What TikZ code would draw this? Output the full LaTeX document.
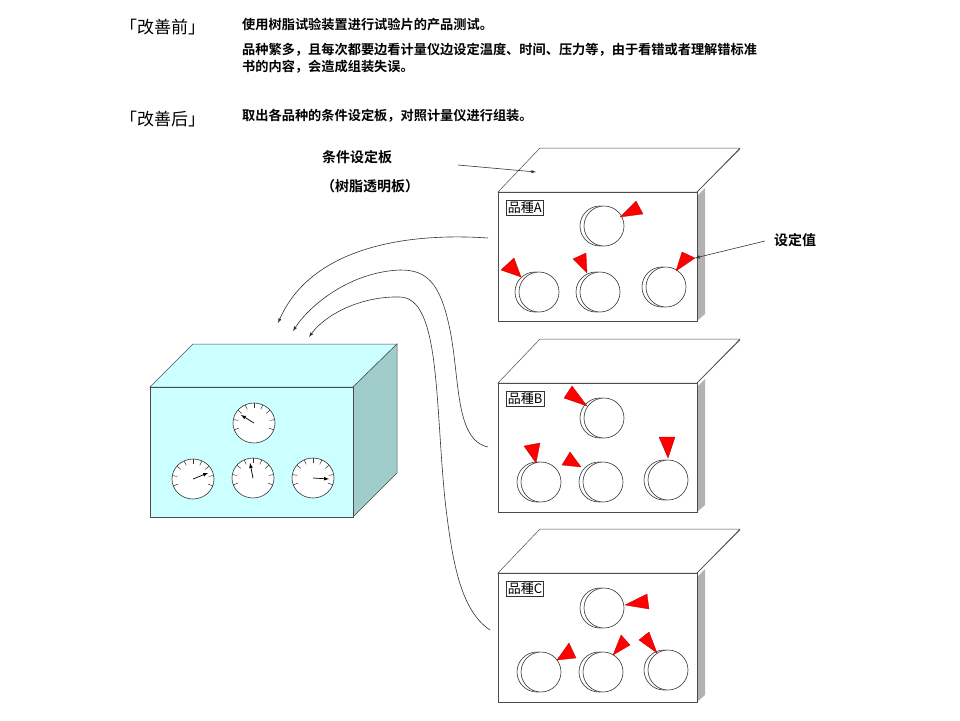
\documentclass[tikz,border=0pt]{standalone}
\usepackage{fontspec}
\usetikzlibrary{calc}
\newfontfamily\cjk{Noto Sans CJK SC}
\newfontfamily\cjkb{Noto Sans CJK SC Bold}
\begin{document}
\begin{tikzpicture}[x=1pt,y=-1pt,
  edge/.style={draw=black!70,line width=0.5pt},
  knob/.style={draw=black!80,line width=0.6pt,fill=white},
  tri/.style={fill=red,draw=red!70!black,line width=0.3pt},
  conn/.style={draw=black!80,line width=0.6pt,-latex},
  lab/.style={draw=black!80,line width=0.6pt,fill=white,inner sep=1.5pt,font=\cjk\fontsize{13}{13}\selectfont},
  txt/.style={font=\cjkb\fontsize{13.2}{17}\selectfont,anchor=west,inner sep=0pt},
  head/.style={font=\cjk\fontsize{17}{17}\selectfont,anchor=west,inner sep=0pt}]
\useasboundingbox (0,0) rectangle (960,720);
\fill[white] (0,0) rectangle (960,720);
% texts
\node[head] (h1) at (120,27) {「改善前」};
\node[txt] (t1) at (242,24) {使用树脂试验装置进行试验片的产品测试。};
\node[txt,align=left] (t2) at (242,58) {品种繁多，且每次都要边看计量仪边设定温度、时间、压力等，由于看错或者理解错标准\\书的内容，会造成组装失误。};
\node[head] (h2) at (120,119) {「改善后」};
\node[txt] (t3) at (242,116) {取出各品种的条件设定板，对照计量仪进行组装。};
% panels
\foreach \name/\yo/\L in {pA/0/A,pB/191/B,pC/381/C}{
  \begin{scope}[yshift=-\yo]
  \draw[edge,fill=white] (498,192) -- (540,148) -- (740,148) -- (697,192) -- cycle;
  \fill[black!30] (697,196) -- (705,188) -- (705,314) -- (697,321) -- cycle;
  \draw[edge] (697,192) -- (740,149);
  \draw[edge,fill=white] (498,192) rectangle (697,321);
  \node[lab,anchor=north west] (\name lab) at (506,200) {品種\L};
  \end{scope}
}
\newcommand{\knb}[2]{\draw[knob] (#1-4,#2) circle (20); \draw[knob] (#1,#2) circle (20);}
% panel A
\knb{604}{226}\knb{539}{292}\knb{600}{292}\knb{666}{287}
\fill[tri] (620,217) -- (636,201) -- (643,214) -- cycle;
\fill[tri] (521,277) -- (501,270) -- (514,258) -- cycle;
\fill[tri] (587,273) -- (573,259) -- (586,253) -- cycle;
\fill[tri] (676,271) -- (682,252) -- (695,258) -- cycle;
% panel B
\knb{604}{418}\knb{541}{482}\knb{603}{482}\knb{668}{480}
\fill[tri] (587,406) -- (564,398) -- (572,386) -- cycle;
\fill[tri] (536,463) -- (524,446) -- (540,443) -- cycle;
\fill[tri] (581,467) -- (562,465) -- (570,452) -- cycle;
\fill[tri] (668,458) -- (659,437) -- (675,437) -- cycle;
% panel C
\knb{604}{608}\knb{541}{672}\knb{603}{672}\knb{668}{670}
\fill[tri] (625,605) -- (647,594) -- (649,609) -- cycle;
\fill[tri] (557,660) -- (569,643) -- (576,658) -- cycle;
\fill[tri] (613,655) -- (621,635) -- (630,645) -- cycle;
\fill[tri] (657,653) -- (639,640) -- (649,632) -- cycle;
% gauge box
\draw[edge,fill={rgb,255:red,204;green,255;blue,255}] (150,387) -- (193,344) -- (397,344) -- (353,387) -- cycle;
\draw[edge,fill={rgb,255:red,160;green,204;blue,204}] (353,387) -- (397,344) -- (397,473) -- (353,517) -- cycle;
\draw[edge,fill={rgb,255:red,204;green,255;blue,255}] (150,387) rectangle (353,517);
\foreach \cx/\cy in {254/423,193/479,253/478,313/478}{
  \draw[knob,fill=white] (\cx,\cy) ellipse (21 and 20);
  \foreach \a in {-20,10,40,65,90,115,140,170,200}
    \draw[black!80,line width=0.5pt] ($(\cx,\cy)+(\a:21 and -20)$) -- ($(\cx,\cy)+(\a:16 and -15)$);
}
\draw[-latex,line width=0.7pt] (254,423) -- (241,415);
\draw[-latex,line width=0.7pt] (193,479) -- (208,473);
\draw[-latex,line width=0.7pt] (253,478) -- (250,463);
\draw[-latex,line width=0.7pt] (313,478) -- (329,479);
% labels and arrows
\node[font=\cjkb\fontsize{14}{14}\selectfont] (jb) at (357,157) {条件设定板};
\node[font=\cjkb\fontsize{14}{14}\selectfont] (jb2) at (370,186) {（树脂透明板）};
\coordinate (a1s) at (458,165); \coordinate (a1e) at (536,172);
\draw[conn] (a1s) -- (a1e);
\node[font=\cjkb\fontsize{14}{14}\selectfont] (sd) at (795,240) {设定值};
\coordinate (a2s) at (765,241); \coordinate (a2e) at (695,258);
\draw[conn] (a2s) -- (a2e);
% curves
\coordinate (c1) at (488,238); \coordinate (c1e) at (278,323);
\coordinate (c2) at (488,447); \coordinate (c2e) at (293,331);
\coordinate (c3) at (490,630); \coordinate (c3e) at (309,337);
\draw[conn] (c1) .. controls (400,232) and (310,250) .. (c1e);
\draw[conn] (c2) .. controls (455,440) and (460,380) .. (450,330) .. controls (440,280) and (425,270) .. (400,270) .. controls (350,272) and (310,305) .. (c2e);
\draw[conn] (c3) .. controls (460,610) and (452,560) .. (445,500) .. controls (435,400) and (440,298) .. (400,297) .. controls (360,296) and (325,315) .. (c3e);
\end{tikzpicture}
\end{document}
